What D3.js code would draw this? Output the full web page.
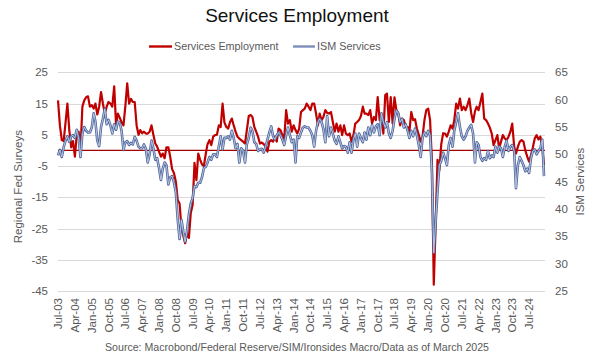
<!DOCTYPE html>
<html><head><meta charset="utf-8">
<script src="https://cdn.jsdelivr.net/npm/d3@7"></script>
<style>
html,body{margin:0;padding:0;background:#fff;}
svg{display:block;font-family:"Liberation Sans",Arial,sans-serif;}
</style></head><body>
<svg id="c" width="594" height="357"></svg>
<script>
const startMonth = [2003, 6]; // Jul 2003
const servicesEmployment = [
16,8,3.3,3,9,15,6.5,1,3,-2,
5,6,0,14,16,17,17.3,14,14.5,13.4,
15,11.5,14,18.7,15,11.8,14,15.5,15,14,
20.5,8,11.8,10.5,9,8,14,21.5,15,16.5,
15.5,15.5,8,5,6.5,5.5,6,5.4,5.4,6,
8,5,2.2,1.2,-0.4,-2,-1,-2.5,1,1,
-2,-6,-7.3,
-10,-16,-17,-25,-27.5,-29.7,-26.5,
-28,-20,-17.5,-4,-9.5,-1,-3,-4.5,-5,-1,
2,3.3,1.7,4.4,4.9,5,8,7.5,15,9,
7.5,7,9,10.2,8,6,4.4,3.8,3.3,2.8,
2.2,6.5,11,11.3,10.7,7.5,6,4.4,2.2,2.5,
2,1.2,-0.4,2.8,3.3,2.8,4.4,2.8,7,6.5,
5,3.8,12.9,8.6,9.7,6,8,
6.5,5.4,7,
12.3,12.9,13.4,15,14,12.9,15,15,11.8,8,
11.8,9.7,10.7,12.9,12,11.8,12.3,9.1,6,8.6,
6,8,4.9,8,5.4,4.9,5.4,2.8,4.9,8.6,
9.1,9.7,11,14,11.8,11.8,11.3,12.9,8.6,10.7,
9.7,17.1,9.7,11.3,5.4,17.7,18.2,9.1,17.1,8.6,
17,12.9,11.8,8,10.2,9.7,7.5,7.5,6,12.3,9.7,
10,7,5,2.8,4.4,9.7,12.9,13.4,9.7,
-3,-43,-24,-3,-6.3,2,5.5,5.4,4.4,6,
8,7,9.7,15,13.4,16.6,12.9,14,12.9,14.5,
16.6,12,9.1,12.5,14,12.9,15.5,18.2,10.2,9.7,
8.6,7.3,5.4,1.7,3.3,4.9,0.6,2.8,4.9,3.8,
3.3,4.4,6,8.6,1.2,-1,1.2,2.8,3.3,2.8,
0,-2,-3.6,-1.5,1,3.8,4.9,3.5,4.4,1,-4.7
];
const ismServices = [
49.8,50.8,49.5,51.3,52.5,53.3,52.3,53.3,53.5,53,
54.5,53,49.5,53.8,55,54.3,54,54,54.9,57.5,
56,52.5,51.5,55,56.5,58.3,55.5,56.3,55.3,53.8,
55.5,54.5,56,55.8,54.3,50.8,52.2,52.4,51.7,52.1,
51.8,53.2,52.5,51.4,51.1,51.1,51.8,51,48.5,50,
52.5,51.1,49,49.3,47.5,45.3,47.3,48.5,48,44.5,
45.8,46,44.8,
43,38,34.5,38,35.7,34,36,
39,41,42,44.2,44,44.8,44.8,45.8,47.5,47.7,
48.5,49.5,49,50,50,49.5,51.5,53.3,50.9,53,
53,53.3,52.7,54.3,53,51.1,51.9,48.5,51.1,50.6,
48.5,51.8,53,54.9,54.3,52.2,51.9,50.6,50.9,51,
50.3,51.4,52.7,54,55.1,53.3,52.7,53.5,54,53.5,
52.7,51.7,53.5,54.9,53.5,52.2,52.7,
48.5,53.3,53,
54,54.9,55.1,54.9,54.9,54.3,53.5,51.4,54.3,55.9,
56.5,55.9,54.6,52.2,57,53.3,54.9,53.8,52.5,51.9,
53.3,52.2,51.1,51.5,51.4,50.3,52.2,50.3,52.7,53.8,
51.4,53.8,53,52.2,54,52.7,54.9,53.5,55.4,54,
55.1,55.5,53.5,57.5,55.9,54.9,55.9,53.8,53,54.3,
56.5,58,57.5,55.9,56.5,54.9,55.5,54.3,53,54.3,53.3,
54.7,53.5,51.7,49.5,53,54,53.3,54.3,53.5,
47,32,37.5,43.2,48,48.8,50.3,49.3,48,51.7,
53,51.4,54.3,55.9,57.5,55,53.3,52.7,53.3,54.3,
54.9,55.4,53.8,48.5,52.2,51.7,49.5,48.8,49.3,49,
50.6,49.3,49.8,49.5,51.4,50.3,51.4,51.1,49.5,51.4,
52.5,50.6,51.4,51.7,50.6,43.8,48,49.5,48.8,48,
46.9,47.4,46.6,49.3,50.6,50.9,50,50.6,51.1,52.7,46
];
const leftTicks = [25,15,5,-5,-15,-25,-35,-45];
const rightTicks = [65,60,55,50,45,40,35,30,25];
const tickStepMonths = 9;
const titleText = "Services Employment";
const seriesNames = ["Services Employment","ISM Services"];
const leftAxisTitle = "Regional Fed Surveys";
const rightAxisTitle = "ISM Services";
const sourceText = "Source: Macrobond/Federal Reserve/SIM/Ironsides Macro/Data as of March 2025";

const svg = d3.select("#c");
const dates = servicesEmployment.map((_, i) => new Date(startMonth[0], startMonth[1] + i, 1));
const L = 58, R = 544, T = 72.3, B = 291;
const x = d3.scaleTime().domain([dates[0], dates[dates.length-1]]).range([L, R]);
const yL = d3.scaleLinear().domain([-45, 25]).range([B, T]);
const yR = d3.scaleLinear().domain([25, 65]).range([B, T]);
const textCol = "#595959";
const fs = 11.5;

// gridlines
svg.append("g").selectAll("line").data(leftTicks).join("line")
  .attr("x1", L).attr("x2", R+1).attr("y1", d => Math.round(yL(d))+0.5).attr("y2", d => Math.round(yL(d))+0.5)
  .attr("stroke", "#d9d9d9").attr("stroke-width", 1);

// left ticks
svg.append("g").selectAll("text").data(leftTicks).join("text")
  .attr("x", 48).attr("y", d => yL(d)).attr("dy", "0.35em")
  .attr("text-anchor", "end").attr("font-size", fs).attr("fill", textCol).text(d => d);
// right ticks
svg.append("g").selectAll("text").data(rightTicks).join("text")
  .attr("x", 555).attr("y", d => yR(d)).attr("dy", "0.35em")
  .attr("text-anchor", "start").attr("font-size", fs).attr("fill", textCol).text(d => d);

// axis titles
svg.append("text").attr("transform", `translate(22,${(T+B)/2+5}) rotate(-90)`)
  .attr("text-anchor", "middle").attr("font-size", fs).attr("fill", textCol).text(leftAxisTitle);
svg.append("text").attr("transform", `translate(584,${(T+B)/2})  rotate(-90)`)
  .attr("text-anchor", "middle").attr("font-size", fs).attr("fill", textCol).text(rightAxisTitle);

// x labels
const xTicks = dates.filter((d, i) => i % tickStepMonths === 0);
const fmt = d3.timeFormat("%b-%y");
svg.append("g").selectAll("text").data(xTicks).join("text")
  .attr("transform", d => `translate(${x(d)},298) rotate(-90)`)
  .attr("dy", "0.35em").attr("text-anchor", "end")
  .attr("font-size", fs).attr("fill", textCol).text(d => fmt(d));

// zero line
svg.append("line").attr("x1", L).attr("x2", R+1).attr("y1", yL(0)).attr("y2", yL(0))
  .attr("stroke", "#a50000").attr("stroke-width", 1.1);

// series
const lineL = d3.line().x((d, i) => x(dates[i])).y(d => yL(d));
const lineR = d3.line().x((d, i) => x(dates[i])).y(d => yR(d));
svg.append("path").attr("d", lineL(servicesEmployment)).attr("fill", "none")
  .attr("stroke", "#c00000").attr("stroke-width", 2.2).attr("stroke-linejoin", "round");
svg.append("path").attr("d", lineR(ismServices)).attr("fill", "none")
  .attr("stroke", "#4e669e").attr("stroke-width", 2.6).attr("stroke-linejoin", "round");
svg.append("path").attr("d", lineR(ismServices)).attr("fill", "none")
  .attr("stroke", "#c3cde3").attr("stroke-width", 0.9).attr("stroke-linejoin", "round");

// title
svg.append("text").attr("x", 297).attr("y", 22).attr("text-anchor", "middle")
  .attr("font-size", 19).attr("fill", "#111").text(titleText);

// legend
const lg = svg.append("g");
lg.append("line").attr("x1", 149).attr("x2", 172).attr("y1", 46.5).attr("y2", 46.5)
  .attr("stroke", "#c00000").attr("stroke-width", 2.4);
lg.append("text").attr("x", 174).attr("y", 46.5).attr("dy", "0.35em").attr("font-size", 10.8)
  .attr("fill", textCol).text(seriesNames[0]);
lg.append("line").attr("x1", 293).attr("x2", 315).attr("y1", 46.5).attr("y2", 46.5)
  .attr("stroke", "#7d8fb8").attr("stroke-width", 2.4);
lg.append("text").attr("x", 317).attr("y", 46.5).attr("dy", "0.35em").attr("font-size", 10.8)
  .attr("fill", textCol).text(seriesNames[1]);

// source
svg.append("text").attr("x", 297).attr("y", 351).attr("text-anchor", "middle")
  .attr("font-size", 10.6).attr("fill", textCol).text(sourceText);
</script></body></html>
